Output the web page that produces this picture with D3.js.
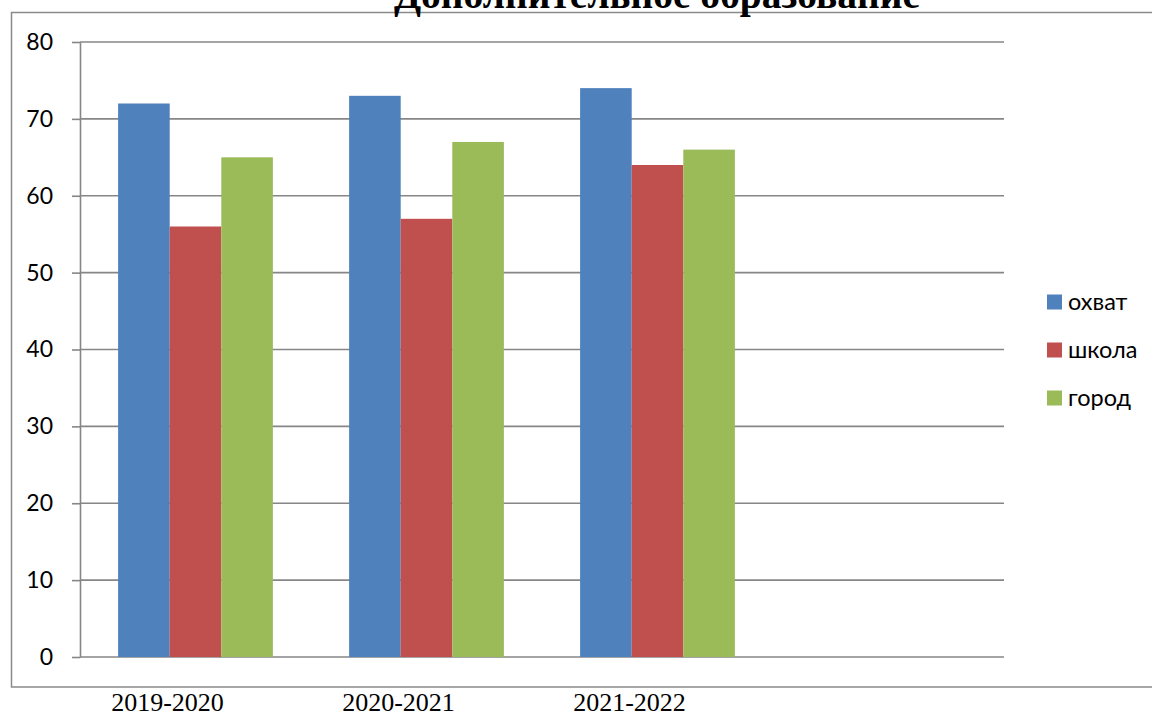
<!DOCTYPE html>
<html>
<head>
<meta charset="utf-8">
<script src="https://cdn.jsdelivr.net/npm/d3@7"></script>
<style>
  body { margin: 0; background: #fff; }
  svg { display: block; }
</style>
</head>
<body>
<svg id="chart"></svg>
<script>
// data
var categories = ["2019-2020", "2020-2021", "2021-2022", ""];
var seriesNames = ["охват", "школа", "город"];
var okhvat = [72, 73, 74];
var shkola = [56, 57, 64];
var gorod = [65, 67, 66];
var yTicks = [0, 10, 20, 30, 40, 50, 60, 70, 80];
var titleText = "Дополнительное образование";

var colors = ["#4F81BD", "#C0504D", "#9BBB59"];
var seriesValues = [okhvat, shkola, gorod];

var screen = {width: 1152, height: 713};
var plot = {left: 80, right: 1004, top: 42, bottom: 657};

var svg = d3.select("#chart")
    .attr("width", screen.width)
    .attr("height", screen.height);

// outer chart frame (right edge runs off the picture)
svg.append("rect")
    .attr("x", 11.5)
    .attr("y", 12.5)
    .attr("width", 1160)
    .attr("height", 674.5)
    .attr("fill", "none")
    .attr("stroke", "#8a8a8a")
    .attr("stroke-width", 1.5);

svg.append("text")
    .attr("x", 657)
    .attr("y", 8)
    .attr("text-anchor", "middle")
    .style("font-family", "'Liberation Serif', 'Times New Roman', serif")
    .style("font-weight", "bold")
    .style("font-size", "39.5px")
    .text(titleText);

var xScale = d3.scaleBand()
    .domain(categories)
    .range([plot.left, plot.right])
    .paddingInner(0.33)
    .paddingOuter(0.165);

var xSub = d3.scaleBand()
    .domain(seriesNames)
    .range([0, xScale.bandwidth()]);

var yScale = d3.scaleLinear()
    .domain([0, 80])
    .range([plot.bottom, plot.top]);

// gridlines
svg.append("g")
    .selectAll("line")
    .data(yTicks)
    .enter()
    .append("line")
    .attr("x1", plot.left)
    .attr("x2", plot.right)
    .attr("y1", function(d) { return yScale(d); })
    .attr("y2", function(d) { return yScale(d); })
    .attr("stroke", "#868686")
    .attr("stroke-width", 1.6);

// y axis
var yAxis = d3.axisLeft(yScale)
    .tickValues(yTicks)
    .tickSizeInner(8)
    .tickSizeOuter(0)
    .tickPadding(19);

var yG = svg.append("g")
    .attr("transform", "translate(" + plot.left + ",0)")
    .call(yAxis);
yG.select(".domain").attr("stroke", "#868686").attr("stroke-width", 1.6);
yG.selectAll(".tick line").attr("stroke", "#868686").attr("stroke-width", 1.6);
yG.selectAll(".tick text")
    .style("font-family", "Lato, 'Open Sans', sans-serif")
    .style("font-size", "23px")
    .attr("fill", "#000");

// bars
var groups = svg.append("g")
    .selectAll("g")
    .data(seriesValues)
    .enter()
    .append("g")
    .attr("fill", function(d, i) { return colors[i]; });

groups.selectAll("rect")
    .data(function(d, i) {
        return d.map(function(v, j) {
            return {cat: categories[j], name: seriesNames[i], value: v};
        });
    })
    .enter()
    .append("rect")
    .attr("x", function(d) { return xScale(d.cat) + xSub(d.name); })
    .attr("y", function(d) { return yScale(d.value); })
    .attr("width", xSub.bandwidth())
    .attr("height", function(d) { return yScale(0) - yScale(d.value); });

// category labels (sit a bit left of the bar groups in the original)
svg.append("g")
    .selectAll("text")
    .data(categories.filter(function(c) { return c !== ""; }))
    .enter()
    .append("text")
    .attr("x", function(d) { return xScale(d) + xScale.bandwidth() / 2 - 28; })
    .attr("y", 711)
    .attr("text-anchor", "middle")
    .style("font-family", "'Liberation Serif', 'Times New Roman', serif")
    .style("font-size", "26px")
    .text(function(d) { return d; });

// legend
var legend = svg.append("g")
    .attr("transform", "translate(1047,302)");

var entries = legend.selectAll("g")
    .data(seriesNames)
    .enter()
    .append("g")
    .attr("transform", function(d, i) { return "translate(0," + i * 48 + ")"; });

entries.append("rect")
    .attr("x", 0)
    .attr("y", -7.5)
    .attr("width", 15)
    .attr("height", 15)
    .attr("fill", function(d, i) { return colors[i]; });

entries.append("text")
    .attr("x", 21)
    .attr("y", 8)
    .style("font-family", "Lato, 'Open Sans', sans-serif")
    .style("font-size", "23.5px")
    .text(function(d) { return d; });
</script>
</body>
</html>
